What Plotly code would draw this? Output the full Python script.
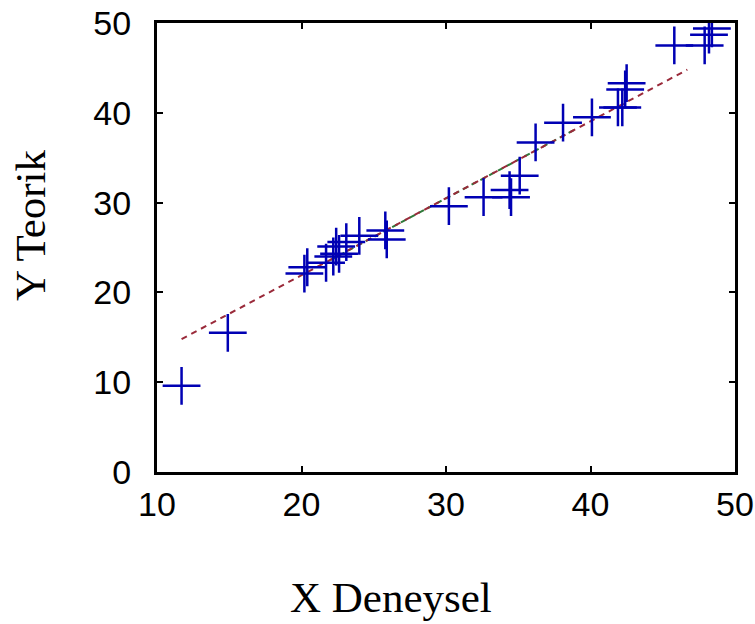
import plotly.graph_objects as go

# Data
x_exp = [11.7, 14.9, 20.2, 20.4, 21.7, 22.2, 22.4, 22.6, 23.1, 24.0, 25.8, 25.9,
         30.2, 32.6, 34.4, 34.5, 35.1, 36.2, 38.1, 40.1, 41.9, 42.2, 42.4, 42.5,
         45.8, 47.9, 48.2, 48.4]
y_teo = [9.6, 15.5, 22.1, 22.8, 23.3, 24.0, 25.1, 24.3, 25.6, 26.3, 26.9, 25.9,
         29.6, 30.6, 31.4, 30.6, 33.0, 36.7, 38.9, 39.5, 40.6, 40.6, 42.6, 43.3,
         47.5, 47.5, 48.7, 49.4]

# Fitted lines
fit_red_x = [11.7, 46.7]
fit_red_y = [14.8, 44.8]
fit_green_x = [22.0, 39.0]
fit_green_y = [23.6, 38.2]

x_ticks = [10, 20, 30, 40, 50]
y_ticks = [0, 10, 20, 30, 40, 50]

fig = go.Figure()
fig.add_trace(go.Scatter(x=fit_green_x, y=fit_green_y, mode="lines",
                         line=dict(color="#2f7a3a", width=2, dash="6px,4px"),
                         showlegend=False, hoverinfo="skip"))
fig.add_trace(go.Scatter(x=fit_red_x, y=fit_red_y, mode="lines",
                         line=dict(color="#9a2a3a", width=2, dash="6px,5px"),
                         showlegend=False, hoverinfo="skip"))
fig.add_trace(go.Scatter(x=x_exp, y=y_teo, mode="markers",
                         marker=dict(symbol="cross-thin", size=27,
                                     line=dict(color="#0000b4", width=2.5)),
                         showlegend=False))

tickfont = dict(family="Liberation Sans, Arial", size=34, color="black")
axis_common = dict(showgrid=False, zeroline=False, showline=True, linecolor="black",
                   linewidth=3, mirror="ticks", ticks="inside", ticklen=6,
                   tickwidth=2, tickcolor="black", tickfont=tickfont,
                   ticklabeloverflow="allow", automargin=False)

fig.update_layout(
    width=755, height=624,
    margin=dict(l=157, r=20, t=23, b=152),
    paper_bgcolor="white", plot_bgcolor="white",
    xaxis=dict(range=[10, 50], tickvals=x_ticks, ticktext=[str(v) for v in x_ticks],
               ticklabelstandoff=0, **axis_common),
    yaxis=dict(range=[0, 50], tickvals=y_ticks, ticktext=[str(v) for v in y_ticks],
               ticklabelstandoff=16, **axis_common),
    annotations=[
        dict(text="X Deneysel", xref="paper", yref="paper", x=(391 - 157) / 578,
             y=-(597 - 472) / 449, xanchor="center", yanchor="middle",
             showarrow=False,
             font=dict(family="Liberation Serif, Times New Roman, serif", size=43,
                       color="black")),
        dict(text="Y Teorik", xref="paper", yref="paper", x=-(157 - 30) / 578,
             y=(472 - 225) / 449, xanchor="center", yanchor="middle", textangle=-90,
             showarrow=False,
             font=dict(family="Liberation Serif, Times New Roman, serif", size=43,
                       color="black")),
    ],
)

# remove the default page margin so the figure sits at the window's corner
fig.write_html("out.html",
               config={"displayModeBar": False},
               post_script="document.body.style.margin='0';"
                           "document.body.style.overflow='hidden';")
